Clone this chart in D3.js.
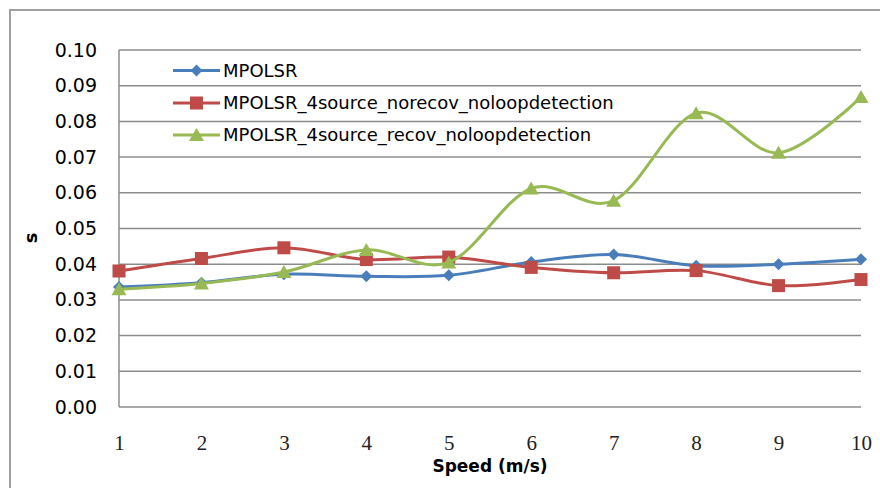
<!DOCTYPE html>
<html>
<head>
<meta charset="utf-8">
<script src="https://cdn.jsdelivr.net/npm/d3@7"></script>
<style>
  html, body { margin: 0; padding: 0; background: #fff; }
  svg { display: block; }
</style>
</head>
<body>
<svg id="chart" width="880" height="488"></svg>
<script>
const speeds = [1, 2, 3, 4, 5, 6, 7, 8, 9, 10];
const seriesNames = ["MPOLSR", "MPOLSR_4source_norecov_noloopdetection", "MPOLSR_4source_recov_noloopdetection"];
const mpolsr = [0.0336, 0.0348, 0.0372, 0.0366, 0.0369, 0.0406, 0.0427, 0.0396, 0.0400, 0.0414];
const norecov = [0.0381, 0.0416, 0.0446, 0.0413, 0.0420, 0.0391, 0.0376, 0.0382, 0.0340, 0.0357];
const recov = [0.0330, 0.0346, 0.0378, 0.0440, 0.0405, 0.0612, 0.0578, 0.0823, 0.0712, 0.0868];
const yTicks = [0, 0.01, 0.02, 0.03, 0.04, 0.05, 0.06, 0.07, 0.08, 0.09, 0.10];
const xLabel = "Speed (m/s)";
const yLabel = "s";

const colors = ["#4A7EBB", "#BE4B48", "#98B954"];
const markers = ["diamond", "square", "triangle"];
const allSeries = [mpolsr, norecov, recov];

const svg = d3.select("#chart");
const gridColor = "#8c8c8c";

// outer frame
svg.append("rect").attr("x", 10).attr("y", 10).attr("width", 900).attr("height", 500)
  .attr("fill", "none").attr("stroke", "#a0a0a0").attr("stroke-width", 2);

const x = d3.scaleLinear().domain([1, 10]).range([119, 861]);
const y = d3.scaleLinear().domain([0, 0.10]).range([407, 50]);

// gridlines
svg.append("g").selectAll("line").data(yTicks).join("line")
  .attr("x1", 119).attr("x2", 861)
  .attr("y1", d => y(d)).attr("y2", d => y(d))
  .attr("stroke", gridColor).attr("stroke-width", 1.5);

// y axis line
svg.append("line").attr("x1", 119).attr("x2", 119).attr("y1", y(0.10)).attr("y2", y(0))
  .attr("stroke", gridColor).attr("stroke-width", 1.5);

// y axis via d3 axis (labels only)
const yAxis = d3.axisLeft(y).tickValues(yTicks).tickFormat(d3.format(".2f")).tickSize(0).tickPadding(22);
const gy = svg.append("g").attr("transform", "translate(119,0)").call(yAxis);
gy.select(".domain").remove();
gy.selectAll("text").attr("font-family", "DejaVu Sans").attr("font-size", 19).attr("fill", "#000");

// x axis labels
const xAxis = d3.axisBottom(x).tickValues(speeds).tickFormat(d3.format("d")).tickSize(0).tickPadding(28);
const gx = svg.append("g").attr("transform", "translate(0,407)").call(xAxis);
gx.select(".domain").remove();
gx.selectAll("text").attr("font-family", "Liberation Serif").attr("font-size", 21).attr("fill", "#222");

// axis titles
svg.append("text").attr("x", 490).attr("y", 472).attr("text-anchor", "middle")
  .attr("font-family", "DejaVu Sans").attr("font-weight", "bold").attr("font-size", 17)
  .text(xLabel);
svg.append("text").attr("transform", "translate(37,238) rotate(-90)").attr("text-anchor", "middle")
  .attr("font-family", "DejaVu Sans").attr("font-weight", "bold").attr("font-size", 18)
  .text(yLabel);

const line = d3.line().x((d, i) => x(speeds[i])).y(d => y(d)).curve(d3.curveCardinal.tension(0));

function drawMarker(g, type, cx, cy, color) {
  if (type === "diamond") {
    g.append("path").attr("d", `M${cx},${cy-6}L${cx+6},${cy}L${cx},${cy+6}L${cx-6},${cy}Z`).attr("fill", color);
  } else if (type === "square") {
    g.append("rect").attr("x", cx - 6.5).attr("y", cy - 6.5).attr("width", 13).attr("height", 13).attr("fill", color);
  } else {
    g.append("path").attr("d", `M${cx},${cy-7}L${cx+7.5},${cy+6}L${cx-7.5},${cy+6}Z`).attr("fill", color);
  }
}

allSeries.forEach((vals, si) => {
  const g = svg.append("g");
  g.append("path").datum(vals).attr("d", line).attr("fill", "none")
    .attr("stroke", colors[si]).attr("stroke-width", 3).attr("stroke-linejoin", "round");
  vals.forEach((v, i) => drawMarker(g, markers[si], x(speeds[i]), y(v), colors[si]));
});

// legend
const legendY = [70.5, 103, 135];
seriesNames.forEach((name, si) => {
  const g = svg.append("g");
  g.append("line").attr("x1", 173).attr("x2", 220).attr("y1", legendY[si]).attr("y2", legendY[si])
    .attr("stroke", colors[si]).attr("stroke-width", 3);
  drawMarker(g, markers[si], 196.5, legendY[si], colors[si]);
  g.append("text").attr("x", 223).attr("y", legendY[si]).attr("dy", "0.36em")
    .attr("font-family", "DejaVu Sans").attr("font-size", 18).attr("fill", "#000").text(name);
});
</script>
</body>
</html>
